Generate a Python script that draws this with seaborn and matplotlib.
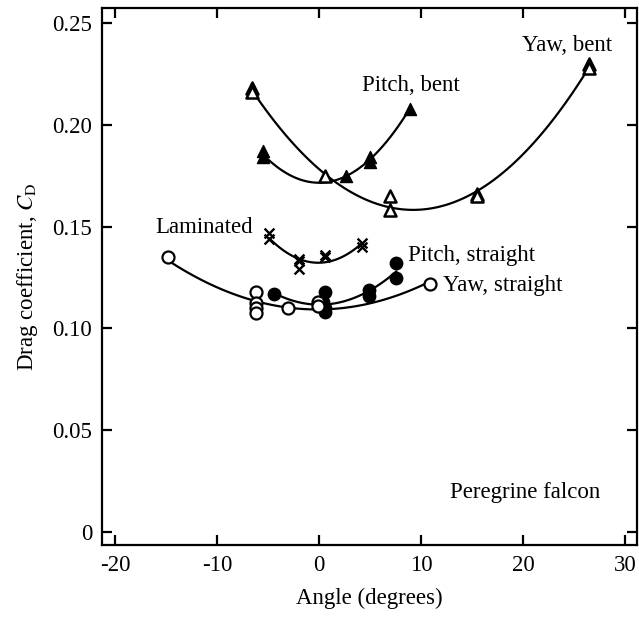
import numpy as np
import pandas as pd
import matplotlib
matplotlib.use("Agg")
import matplotlib.pyplot as plt
import seaborn as sns

# Yaw, bent wing (open triangles)
yaw_bent_x = [-6.6, -6.6, 0.6, 7.0, 7.0, 15.5, 15.5, 26.5, 26.5]
yaw_bent_cd = [0.218, 0.216, 0.175, 0.165, 0.158, 0.166, 0.165, 0.230, 0.228]

# Pitch, bent wing (filled triangles)
pitch_bent_x = [-5.5, -5.5, 2.7, 5.0, 5.0, 8.9]
pitch_bent_cd = [0.187, 0.184, 0.175, 0.184, 0.182, 0.208]

# Laminated wing (crosses)
lam_x = [-4.9, -4.9, -2.0, -2.0, -2.0, 0.6, 0.6, 4.2, 4.2]
lam_cd = [0.147, 0.144, 0.134, 0.133, 0.129, 0.136, 0.135, 0.142, 0.140]

# Pitch, straight wing (filled circles)
pitch_str_x = [-4.4, 0.6, 0.4, 0.4, 0.6, 0.6, 4.9, 4.9, 7.6, 7.6]
pitch_str_cd = [0.117, 0.118, 0.113, 0.111, 0.110, 0.108, 0.119, 0.116, 0.132, 0.125]

# Yaw, straight wing (open circles)
yaw_str_x = [-14.8, -6.2, -6.2, -6.2, -6.2, -3.0, -0.1, -0.1, 10.9]
yaw_str_cd = [0.135, 0.118, 0.1125, 0.110, 0.1075, 0.110, 0.113, 0.111, 0.122]

labels = ["Yaw, bent", "Pitch, bent", "Laminated", "Pitch, straight", "Yaw, straight"]

sns.set_theme(style="ticks")
plt.rcParams["font.family"] = ["Liberation Serif", "DejaVu Serif"]
plt.rcParams["mathtext.fontset"] = "stix"
plt.rcParams["text.color"] = "black"
plt.rcParams["axes.labelcolor"] = "black"

fig = plt.figure(figsize=(6.39, 6.17), dpi=100)
ax = fig.add_axes([0.1596, 0.1167, 0.9969 - 0.1596, 0.987 - 0.1167])

series = [
    (yaw_bent_x, yaw_bent_cd, dict(marker="^", s=75, facecolor="white", edgecolor="black", linewidth=1.8)),
    (pitch_bent_x, pitch_bent_cd, dict(marker="^", s=75, color="black", edgecolor="black", linewidth=1.0)),
    (lam_x, lam_cd, dict(marker="x", s=50, color="black", linewidth=1.7)),
    (pitch_str_x, pitch_str_cd, dict(marker="o", s=80, color="black", edgecolor="black", linewidth=1.0)),
    (yaw_str_x, yaw_str_cd, dict(marker="o", s=75, facecolor="white", edgecolor="black", linewidth=1.6)),
]

for (xs, ys, kw), name in zip(series, labels):
    df = pd.DataFrame({"angle": xs, "cd": ys})
    # quadratic fit through each group's points
    sns.regplot(data=df, x="angle", y="cd", order=2, ci=None, scatter=False,
                truncate=True, color="black", line_kws=dict(linewidth=1.6), ax=ax)
    sns.scatterplot(data=df, x="angle", y="cd", ax=ax, zorder=3, legend=False, **kw)

fs = 16.5
ax.text(24.3, 0.239, "Yaw, bent", ha="center", va="center", fontsize=fs)
ax.text(9.0, 0.2195, "Pitch, bent", ha="center", va="center", fontsize=fs)
ax.text(-11.3, 0.1498, "Laminated", ha="center", va="center", fontsize=fs)
ax.text(8.7, 0.136, "Pitch, straight", ha="left", va="center", fontsize=fs)
ax.text(12.2, 0.1213, "Yaw, straight", ha="left", va="center", fontsize=fs)
ax.text(20.2, 0.0196, "Peregrine falcon", ha="center", va="center", fontsize=fs)

ax.set_xlim(-21.27, 31.18)
ax.set_ylim(-0.0064, 0.2574)
ax.set_xticks([-20, -10, 0, 10, 20, 30])
ax.set_xticklabels(["-20", "-10", "0", "10", "20", "30"])
ax.set_yticks([0, 0.05, 0.10, 0.15, 0.20, 0.25])
ax.set_yticklabels(["0", "0.05", "0.10", "0.15", "0.20", "0.25"])
ax.tick_params(direction="in", length=7.5, width=1.6, labelsize=fs, top=True, right=True,
               pad=7, colors="black", labelcolor="black")
ax.set_xlabel("Angle (degrees)", fontsize=fs, labelpad=9, color="black")
ax.set_ylabel(r"Drag coefficient, $C_\mathrm{D}$", fontsize=fs, labelpad=9, color="black")
for sp in ax.spines.values():
    sp.set_color("black")
    sp.set_linewidth(1.6)

fig.savefig("out.png", dpi=100)
